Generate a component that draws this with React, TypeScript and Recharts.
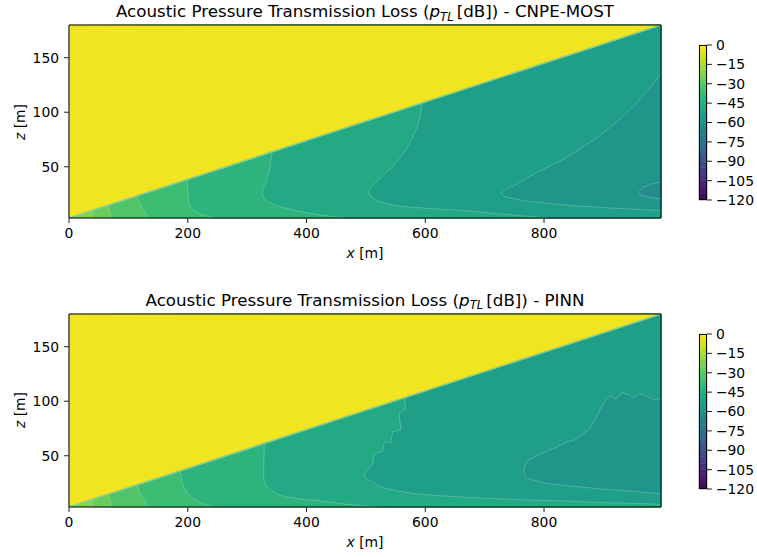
import React from 'react';
import { ScatterChart, Scatter, XAxis, YAxis, BarChart, Bar } from 'recharts';

const FONT = '"DejaVu Sans", "Liberation Sans", sans-serif';

// ---------- axes ----------
const X_MAX = 997;
const Z_MIN = 3;
const Z_MAX = 180;
const xTicks = [0, 200, 400, 600, 800];
const zTicks = [50, 100, 150];

// ---------- colour bar ----------
const cbarTicks = [0, -15, -30, -45, -60, -75, -90, -105, -120];
const cbarLevels = [0, -5, -10, -15, -20, -25, -30, -35, -40, -45, -50, -55, -60, -65, -70, -75, -80, -85, -90, -95, -100, -105, -110, -115, -120];

// ---------- sea surface (air above is 0 dB band) ----------
const surface = [{ x: 0, z: 3 }, { x: 997, z: 180 }];
const airBand = -2.5;

// ---------- CNPE-MOST contour boundaries (x [m], z [m]) ----------
const mostB1 = [{ x: 40, z: 180 }, { x: 39, z: 9 }, { x: 40, z: 3 }];
const mostB2 = [{ x: 66, z: 180 }, { x: 66, z: 14 }, { x: 69, z: 8 }, { x: 72, z: 3 }];
const mostB3 = [{ x: 113, z: 180 }, { x: 114, z: 23 }, { x: 120, z: 15 }, { x: 127, z: 9 }, { x: 134, z: 3 }];
const mostB4 = [{ x: 199, z: 180 }, { x: 199, z: 38 }, { x: 200, z: 27 }, { x: 201, z: 18 }, { x: 206, z: 12 }, { x: 218, z: 7 }, { x: 244, z: 3 }];
const mostB5 = [{ x: 342, z: 180 }, { x: 342, z: 64 }, { x: 339, z: 50 }, { x: 333, z: 38 }, { x: 327, z: 30 }, { x: 325, z: 26 }, { x: 328, z: 21 }, { x: 335, z: 18 }, { x: 350, z: 14 }, { x: 379, z: 10 }, { x: 420, z: 6 }, { x: 463, z: 3 }];
const mostB6 = [{ x: 594, z: 180 }, { x: 594, z: 108 }, { x: 592, z: 97 }, { x: 586, z: 86 }, { x: 578, z: 76 }, { x: 568, z: 66 }, { x: 556, z: 57 }, { x: 541, z: 48 }, { x: 525, z: 40 }, { x: 512, z: 33 }, { x: 506, z: 29 }, { x: 505, z: 26 }, { x: 509, z: 22 }, { x: 518, z: 19 }, { x: 535, z: 16 }, { x: 559, z: 13.6 }, { x: 600, z: 12 }, { x: 672, z: 9.5 }, { x: 740, z: 6 }, { x: 805, z: 3 }];
const mostB7 = [{ x: 997, z: 135 }, { x: 975, z: 120 }, { x: 950, z: 105 }, { x: 920, z: 90 }, { x: 890, z: 77 }, { x: 860, z: 66 }, { x: 830, z: 56 }, { x: 800, z: 48 }, { x: 772, z: 40 }, { x: 750, z: 33 }, { x: 735, z: 29 }, { x: 728, z: 26 }, { x: 732, z: 23 }, { x: 745, z: 21 }, { x: 770, z: 18.5 }, { x: 805, z: 16.5 }, { x: 845, z: 14.5 }, { x: 900, z: 12.5 }, { x: 950, z: 11 }, { x: 997, z: 10 }];
const mostB8 = [{ x: 997, z: 36 }, { x: 980, z: 34 }, { x: 967, z: 31 }, { x: 960, z: 27 }, { x: 963, z: 24 }, { x: 975, z: 22 }, { x: 997, z: 20.5 }];
// TL band (dB) of the region nearest the source, then beyond each boundary
const mostBands = [-22.5, -27.5, -32.5, -37.5, -42.5, -47.5, -52.5, -57.5, -62.5];

// ---------- PINN contour boundaries ----------
const pinnB1 = [{ x: 40, z: 180 }, { x: 39, z: 10 }, { x: 39, z: 3 }];
const pinnB2 = [{ x: 66, z: 180 }, { x: 67, z: 14 }, { x: 69, z: 9 }, { x: 72, z: 3 }];
const pinnB3 = [{ x: 113, z: 180 }, { x: 114, z: 23 }, { x: 120, z: 15 }, { x: 126, z: 10 }, { x: 132, z: 3 }];
const pinnB4 = [{ x: 187, z: 180 }, { x: 187.5, z: 36 }, { x: 190, z: 27 }, { x: 193, z: 21 }, { x: 200, z: 15 }, { x: 210, z: 10.5 }, { x: 222, z: 6.5 }, { x: 243, z: 3 }];
const pinnB5 = [{ x: 329, z: 180 }, { x: 329, z: 60 }, { x: 328, z: 45 }, { x: 328, z: 28 }, { x: 331, z: 23 }, { x: 337, z: 19.8 }, { x: 350, z: 15 }, { x: 368, z: 12 }, { x: 395, z: 10 }, { x: 422, z: 8.7 }, { x: 460, z: 6 }, { x: 492, z: 4.2 }, { x: 527, z: 3 }];
const pinnB6 = [{ x: 565, z: 180 }, { x: 565, z: 102 }, { x: 567, z: 93 }, { x: 556, z: 89 }, { x: 559, z: 74 }, { x: 545, z: 72 }, { x: 542, z: 62 }, { x: 531, z: 63 }, { x: 528, z: 54 }, { x: 514, z: 52 }, { x: 511, z: 42 }, { x: 503, z: 37 }, { x: 497, z: 33 }, { x: 499, z: 30 }, { x: 506, z: 27.5 }, { x: 525, z: 21.3 }, { x: 550, z: 18 }, { x: 582, z: 15.2 }, { x: 620, z: 13.5 }, { x: 666, z: 12 }, { x: 705, z: 11 }, { x: 771, z: 9.5 }, { x: 836, z: 8.5 }, { x: 900, z: 7 }, { x: 997, z: 5.5 }];
const pinnB7 = [{ x: 997, z: 103 }, { x: 987, z: 101 }, { x: 975, z: 104 }, { x: 961, z: 107 }, { x: 950, z: 103 }, { x: 944, z: 106 }, { x: 931, z: 108 }, { x: 921, z: 102 }, { x: 912, z: 105 }, { x: 905, z: 102 }, { x: 896, z: 94 }, { x: 891, z: 88 }, { x: 886, z: 83 }, { x: 878, z: 76 }, { x: 869, z: 71 }, { x: 852, z: 64.5 }, { x: 840, z: 63 }, { x: 829, z: 60 }, { x: 818, z: 57 }, { x: 807, z: 55 }, { x: 790, z: 50.5 }, { x: 773, z: 46 }, { x: 768, z: 41 }, { x: 766, z: 36 }, { x: 768, z: 32 }, { x: 773, z: 29 }, { x: 790, z: 26.5 }, { x: 807, z: 24.4 }, { x: 850, z: 22 }, { x: 891, z: 19.8 }, { x: 945, z: 17.5 }, { x: 997, z: 15.2 }];
const pinnBands = [-22.5, -27.5, -32.5, -37.5, -42.5, -47.5, -52.5, -57.5];

const mostBoundaries = [mostB1, mostB2, mostB3, mostB4, mostB5, mostB6, mostB7, mostB8];
const pinnBoundaries = [pinnB1, pinnB2, pinnB3, pinnB4, pinnB5, pinnB6, pinnB7];

// ---------- colours ----------
const VIRIDIS = ['#440154', '#471365', '#482475', '#463480', '#414487', '#3b528b', '#355f8d', '#2f6c8e', '#2a788e', '#25848e', '#21918c', '#1e9c89', '#22a884', '#2fb47c', '#42be71', '#5ec962', '#7ad151', '#9bd93c', '#bddf26', '#dfe318', '#fde725'];
const parseHex = (h: string) => [1, 3, 5].map((i) => parseInt(h.slice(i, i + 2), 16));
const toHex = (n: number) => Math.round(n).toString(16).padStart(2, '0');
function viridis(t: number) {
  const c = Math.max(0, Math.min(1, t)) * (VIRIDIS.length - 1);
  const i = Math.min(VIRIDIS.length - 2, Math.floor(c));
  const f = c - i;
  const a = parseHex(VIRIDIS[i]);
  const b = parseHex(VIRIDIS[i + 1]);
  return '#' + [0, 1, 2].map((k) => toHex(a[k] + (b[k] - a[k]) * f)).join('');
}
const tlColor = (v: number) => viridis((v + 120) / 120);

// ---------- polygon helpers ----------
type P = { x: number; z: number };
function closeRegion(b: P[]): P[] {
  const pts = [...b];
  const first = b[0];
  const last = b[b.length - 1];
  if (last.x < X_MAX) pts.push({ x: X_MAX, z: last.z });
  if (first.z >= Z_MAX) pts.push({ x: X_MAX, z: Z_MAX });
  return pts;
}
const basePoly: P[] = [{ x: 0, z: Z_MIN }, { x: X_MAX, z: Z_MIN }, { x: X_MAX, z: Z_MAX }, { x: 0, z: Z_MAX }];
const airPoly: P[] = [surface[0], surface[1], { x: 0, z: Z_MAX }];
const framePoly: P[] = [{ x: 0, z: Z_MIN }, { x: X_MAX, z: Z_MIN }, { x: X_MAX, z: Z_MAX }, { x: 0, z: Z_MAX }, { x: 0, z: Z_MIN }];

function polyRenderer(fill: string, edgeCount: number, edgeStroke: string, edgeWidth: number) {
  return (props: any) => {
    const pts: { x: number; y: number }[] = props.points || [];
    if (pts.length < 2) return <g />;
    const toD = (arr: { x: number; y: number }[]) =>
      arr.map((p, i) => `${i ? 'L' : 'M'}${p.x.toFixed(2)},${p.y.toFixed(2)}`).join('');
    return (
      <g>
        {fill !== 'none' && <path d={toD(pts) + 'Z'} fill={fill} stroke={fill} strokeWidth={0.4} />}
        {edgeCount > 1 && (
          <path d={toD(pts.slice(0, edgeCount))} fill="none" stroke={edgeStroke} strokeWidth={edgeWidth} strokeLinejoin="round" />
        )}
      </g>
    );
  };
}
const noShape = () => <g />;

const tickStyle = { fill: '#000', fontSize: 13.9, fontFamily: FONT };
const tickLineStyle = { stroke: '#000', strokeWidth: 0.9 };

function Field({ boundaries, bands }: { boundaries: P[][]; bands: number[] }) {
  return (
    <ScatterChart width={700} height={280} margin={{ top: 25, right: 39, bottom: 32, left: 9 }}>
      <XAxis type="number" dataKey="x" domain={[0, X_MAX]} ticks={xTicks} interval={0} height={30}
        axisLine={false} tickLine={tickLineStyle} tickSize={4.9} tickMargin={5} tick={tickStyle} />
      <YAxis type="number" dataKey="z" domain={[Z_MIN, Z_MAX]} ticks={zTicks} interval={0} width={60}
        axisLine={false} tickLine={tickLineStyle} tickSize={4.9} tickMargin={5} tick={tickStyle} />
      <Scatter data={basePoly} shape={noShape} lineType="joint" isAnimationActive={false}
        line={polyRenderer(tlColor(bands[0]), 0, 'none', 0)} />
      {boundaries.map((b, i) => (
        <Scatter key={i} data={closeRegion(b)} shape={noShape} lineType="joint" isAnimationActive={false}
          line={polyRenderer(tlColor(bands[i + 1]), b.length, 'rgba(255,255,255,0.32)', 0.7)} />
      ))}
      <Scatter data={airPoly} shape={noShape} lineType="joint" isAnimationActive={false}
        line={polyRenderer(tlColor(airBand), 2, '#7fd0a0', 1.6)} />
      <Scatter data={framePoly} shape={noShape} lineType="joint" isAnimationActive={false}
        line={polyRenderer('none', 5, '#000', 1)} />
    </ScatterChart>
  );
}

const bandKeys = cbarLevels.slice(1).map((_, i) => `b${i}`);
const cbarRow = [
  bandKeys.reduce((acc: Record<string, number | string>, k, i) => {
    acc[k] = cbarLevels[i + 1] - cbarLevels[i];
    return acc;
  }, { name: 'cb' }),
];
const fmtMinus = (v: number) => (v < 0 ? `\u2212${-v}` : `${v}`);

function ColorBar() {
  return (
    <div style={{ position: 'relative', width: 77, height: 240 }}>
      <BarChart width={77} height={240} data={cbarRow} margin={{ top: 45, right: 5, bottom: 40, left: 19 }} barCategoryGap={0} barGap={0}>
        <XAxis dataKey="name" hide />
        <YAxis orientation="right" type="number" domain={[-120, 0]} ticks={cbarTicks} interval={0} width={45}
          axisLine={false} tickLine={tickLineStyle} tickSize={4.9} tickMargin={4} tick={tickStyle} tickFormatter={fmtMinus} />
        {bandKeys.map((k, i) => {
          const c = tlColor((cbarLevels[i] + cbarLevels[i + 1]) / 2);
          return <Bar key={k} dataKey={k} stackId="cb" fill={c} stroke={c} strokeWidth={0.5} isAnimationActive={false} />;
        })}
      </BarChart>
      <div style={{ position: 'absolute', left: 19, top: 45, width: 8, height: 155, border: '0.9px solid #000', boxSizing: 'border-box' }} />
    </div>
  );
}

function Title({ name }: { name: string }) {
  return (
    <div style={{ position: 'absolute', left: 15, width: 700, top: 1, textAlign: 'center', fontSize: 16.7, lineHeight: '20px', whiteSpace: 'nowrap' }}>
      Acoustic Pressure Transmission Loss (<i>p</i>
      <span style={{ fontSize: '70%', fontStyle: 'italic', position: 'relative', top: '0.3em' }}>TL</span>
      <span style={{ marginLeft: 3 }}>[dB]) - {name}</span>
    </div>
  );
}

function Panel({ offsetY, name, boundaries, bands }: { offsetY: number; name: string; boundaries: P[][]; bands: number[] }) {
  return (
    <div style={{ position: 'absolute', left: 0, top: offsetY, width: 757, height: 290 }}>
      <Title name={name} />
      <div style={{ position: 'absolute', left: 0, top: 0 }}>
        <Field boundaries={boundaries} bands={bands} />
      </div>
      <div style={{ position: 'absolute', left: 680, top: 0 }}>
        <ColorBar />
      </div>
      <div style={{ position: 'absolute', left: 265, width: 200, top: 245, textAlign: 'center', fontSize: 13.9, lineHeight: '16px' }}>
        <i>x</i> [m]
      </div>
      <div style={{ position: 'absolute', left: 19.5, top: 121.5, fontSize: 13.9, lineHeight: '16px', whiteSpace: 'nowrap', transform: 'translate(-50%, -50%) rotate(-90deg)' }}>
        <i>z</i> [m]
      </div>
    </div>
  );
}

export default function App() {
  return (
    <div style={{ position: 'absolute', left: 0, top: 0, width: 757, height: 557, background: '#fff', fontFamily: FONT, color: '#000' }}>
      <Panel offsetY={0} name="CNPE-MOST" boundaries={mostBoundaries} bands={mostBands} />
      <Panel offsetY={288.5} name="PINN" boundaries={pinnBoundaries} bands={pinnBands} />
    </div>
  );
}
